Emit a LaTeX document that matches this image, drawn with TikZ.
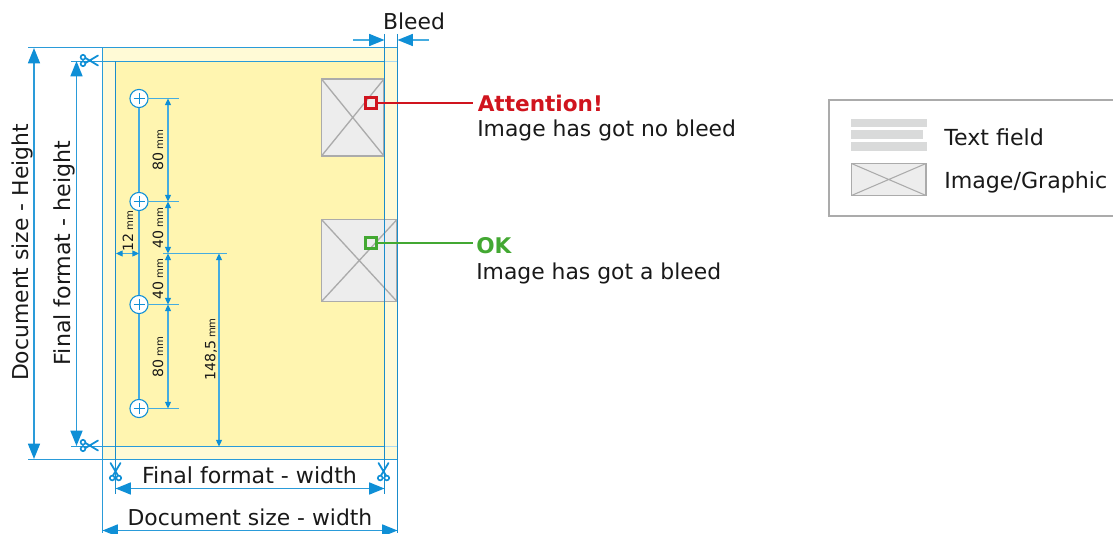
\documentclass[tikz,border=0pt]{standalone}
\usepackage{fontspec}
\setmainfont{DejaVu Sans}
\usetikzlibrary{arrows.meta,calc}
\definecolor{bl}{HTML}{0F8FD6}
\definecolor{lbl}{HTML}{45ACE0}
\definecolor{mbl}{HTML}{2A9BD9}
\definecolor{dbl}{HTML}{1A8CCB}
\definecolor{yd}{HTML}{FFF5B0}
\definecolor{yl}{HTML}{FFFAD6}
\definecolor{gr}{HTML}{ABABAB}
\definecolor{igr}{HTML}{EDEDED}
\definecolor{tgr}{HTML}{D9DADA}
\definecolor{rd}{HTML}{D0141E}
\definecolor{gn}{HTML}{43A832}
\tikzset{
  x=0.75pt,y=-0.75pt,
  guide/.style={draw=mbl,line width=1.05pt},
  cutguide/.style={draw=dbl,line width=1pt},
  paleguide/.style={draw=lbl!45,line width=1pt},
  tick/.style={draw=lbl,line width=0.9pt},
  bigdim/.style={draw=mbl,line width=1.15pt,{Triangle[length=11.5pt,width=9pt,color=bl]}-{Triangle[length=11.5pt,width=9pt,color=bl]}},
  onebig/.style={draw=lbl,line width=1.1pt,-{Triangle[length=11.5pt,width=9pt,color=bl]}},
  smalldim/.style={draw=lbl,line width=0.9pt,{Triangle[length=5pt,width=4.5pt,color=bl]}-{Triangle[length=5pt,width=4.5pt,color=bl]}},
  lab/.style={inner sep=0pt,font=\fontsize{16.4pt}{20pt}\selectfont,text=black!90},
  labw/.style={inner sep=0pt,font=\fontsize{16.6pt}{20pt}\selectfont,text=black!90},
  smalllab/.style={inner sep=0pt,rotate=90,font=\fontsize{10.6pt}{12pt}\selectfont,text=black!90},
  hole/.style={circle,draw=bl,fill=white,line width=0.8pt,minimum size=13.6pt,inner sep=0pt},
  imgbox/.style={draw=gr,fill=igr,line width=1.1pt},
  mk/.style={draw=#1,line width=1.9pt,minimum size=8.2pt,inner sep=0pt},
  sciss/.pic={
    \draw[bl,line width=1.3pt,line cap=round] (-3.5,2.5) -- (9,-5) (-3.5,-2.5) -- (9,5);
    \draw[bl,line width=1.2pt,fill=white] (-6,3.3) circle (2.4) (-6,-3.3) circle (2.4);
  }
}
\newcommand{\mmlab}[1]{#1\,{\fontsize{7.6pt}{9pt}\selectfont mm}}
\begin{document}
\begin{tikzpicture}
\useasboundingbox (0,0) rectangle (1113,534);
% sheet
\fill[yl] (102.5,47.5) rectangle (397.5,459.5);
\fill[yd] (115.5,61.5) rectangle (384.5,446.5);
% images
\draw[imgbox] (321.5,79) rectangle (384,156);
\draw[gr,line width=1pt] (321.5,79) -- (384,156) (321.5,156) -- (384,79);
\draw[imgbox] (321.5,219.5) rectangle (397,301.5);
\draw[gr,line width=1pt] (321.5,219.5) -- (397,301.5) (321.5,301.5) -- (397,219.5);
% guide coordinates
\coordinate (tl1) at (28,47.5);   \coordinate (tr1) at (397.5,47.5);
\coordinate (tl2) at (71,61.5);   \coordinate (tm2) at (384.5,61.5); \coordinate (tr2) at (397.5,61.5);
\coordinate (bl1) at (28,459.5);  \coordinate (br1) at (397.5,459.5);
\coordinate (bl2) at (71,446.5);  \coordinate (bm2) at (384.5,446.5); \coordinate (br2) at (397.5,446.5);
\coordinate (v1t) at (102.5,47.5);\coordinate (v1b) at (102.5,533);
\coordinate (v2t) at (115.5,61.5);  \coordinate (v2b) at (115.5,494);
\coordinate (v3t) at (384.5,34);  \coordinate (v3b) at (384.5,494);
\coordinate (v4t) at (397.5,34);  \coordinate (v4b) at (397.5,533);
\draw[guide] (tl1) -- (tr1);
\draw[guide] (tl2) -- (tm2);
\draw[paleguide] (tm2) -- (tr2);
\draw[guide] (bl1) -- (br1);
\draw[guide] (bl2) -- (bm2);
\draw[paleguide] (bm2) -- (br2);
\draw[guide] (v1t) -- (v1b);
\draw[cutguide] (v2t) -- (v2b);
\draw[cutguide] (v3t) -- (v3b);
\draw[cutguide] (v4t) -- (v4b);
% big dimensions
\coordinate (dh1) at (34,48);  \coordinate (dh2) at (34,459);
\coordinate (fh1) at (76.5,61);  \coordinate (fh2) at (76.5,446);
\coordinate (fw1) at (115.5,488.5); \coordinate (fw2) at (384.5,488.5);
\coordinate (dw1) at (102.5,530.5); \coordinate (dw2) at (397.5,530.5);
\draw[bigdim] (dh1) -- (dh2);
\draw[bigdim] (fh1) -- (fh2);
\draw[bigdim] (fw1) -- (fw2);
\draw[bigdim] (dw1) -- (dw2);
\node[lab,rotate=90] (tdh) at (22,252.5) {Document size - Height};
\node[labw,rotate=90] (tfh) at (64.5,253) {Final format - height};
\node[labw] (tfw) at (249.5,475.5) {Final format - width};
\node[lab] (tdw) at (250,517.5) {Document size - width};
% bleed
\node[lab] (tb) at (414,21.5) {Bleed};
\coordinate (ba) at (353,40); \coordinate (bb) at (429,40);
\draw[onebig] (ba) -- (v3t|-ba);
\draw[onebig] (bb) -- (v4t|-bb);
% holes
\node[hole] (h1) at (139,98.5) {};
\node[hole] (h2) at (139,201.5) {};
\node[hole] (h3) at (139,304.5) {};
\node[hole] (h4) at (139,408.5) {};
\draw[guide,draw=lbl,line width=0.8pt] (h1) -- (h2);
\draw[guide,draw=lbl,line width=0.8pt] (h2) -- (h3);
\draw[guide,draw=lbl,line width=0.8pt] (h3) -- (h4);
\foreach \h in {h1,h2,h3,h4}{
  \draw[bl,line width=0.6pt] ($(\h)+(-5.5,0)$) -- ($(\h)+(5.5,0)$) ($(\h)+(0,-5.5)$) -- ($(\h)+(0,5.5)$);
  \draw[tick] (\h.east) -- ++(30,0);
}
\coordinate (mid) at (163,253.5); \coordinate (mide) at (227,253.5);
\draw[tick] (mid) -- (mide);
\coordinate (d1) at (168,98.5);  \coordinate (d2) at (168,201.5);
\coordinate (d3) at (168,253.5); \coordinate (d4) at (168,304.5); \coordinate (d5) at (168,408.5);
\draw[smalldim] (d1) -- (d2);
\draw[smalldim] (d2) -- (d3);
\draw[smalldim] (d3) -- (d4);
\draw[smalldim] (d4) -- (d5);
\coordinate (d6) at (219,253.5); \coordinate (d7) at (219,446.5);
\draw[smalldim] (d6) -- (d7);
\coordinate (d8) at (116,253.5); \coordinate (d9) at (139,253.5);
\draw[smalldim] (d8) -- (d9);
\node[smalllab] (t80a) at (158,150) {\mmlab{80}};
\node[smalllab] (t40a) at (158,228) {\mmlab{40}};
\node[smalllab] (t40b) at (158,279) {\mmlab{40}};
\node[smalllab] (t80b) at (158,357) {\mmlab{80}};
\node[smalllab] (t148) at (211,349.5) {\mmlab{148,5}};
\node[smalllab] (t12) at (128,231) {\mmlab{12}};
% scissors
\pic at (89,60.5) {sciss};
\pic at (89,445.5) {sciss};
\pic[rotate=90] at (115.5,472) {sciss};
\pic[rotate=90] at (383.5,472) {sciss};
% callouts
\node[mk=rd] (mr) at (371,103) {};
\node[mk=gn] (mg) at (371,243) {};
\coordinate (er) at (473,103); \coordinate (eg) at (473,243);
\draw[rd,line width=1.9pt] (mr) -- (er);
\draw[gn,line width=1.9pt] (mg) -- (eg);
\node[lab,anchor=base west,text=rd,font=\fontsize{16.2pt}{20pt}\selectfont\bfseries] (ta) at (477.5,112) {Attention!};
\node[lab,anchor=base west] (tn) at (477,136.5) {Image has got no bleed};
\node[lab,anchor=base west,text=gn,font=\fontsize{16.2pt}{20pt}\selectfont\bfseries] (to) at (476,254) {OK};
\node[lab,anchor=base west] (ty) at (476,279.5) {Image has got a bleed};
% legend
\draw[gr,line width=1.5pt] (1114,100) -- (828.5,100) -- (828.5,216) -- (1114,216);
\fill[tgr] (851,119) rectangle (927,127.5);
\fill[tgr] (851,130) rectangle (923,139);
\fill[tgr] (851,142) rectangle (927,151);
\draw[imgbox] (851.5,163.5) rectangle (926,195.5);
\draw[gr,line width=0.8pt] (851.5,163.5) -- (926,195.5) (851.5,195.5) -- (926,163.5);
\node[labw,anchor=base west] (tt) at (944,146) {Text field};
\node[labw,anchor=base west] (ti) at (944,189) {Image/Graphic};
\end{tikzpicture}
\end{document}
